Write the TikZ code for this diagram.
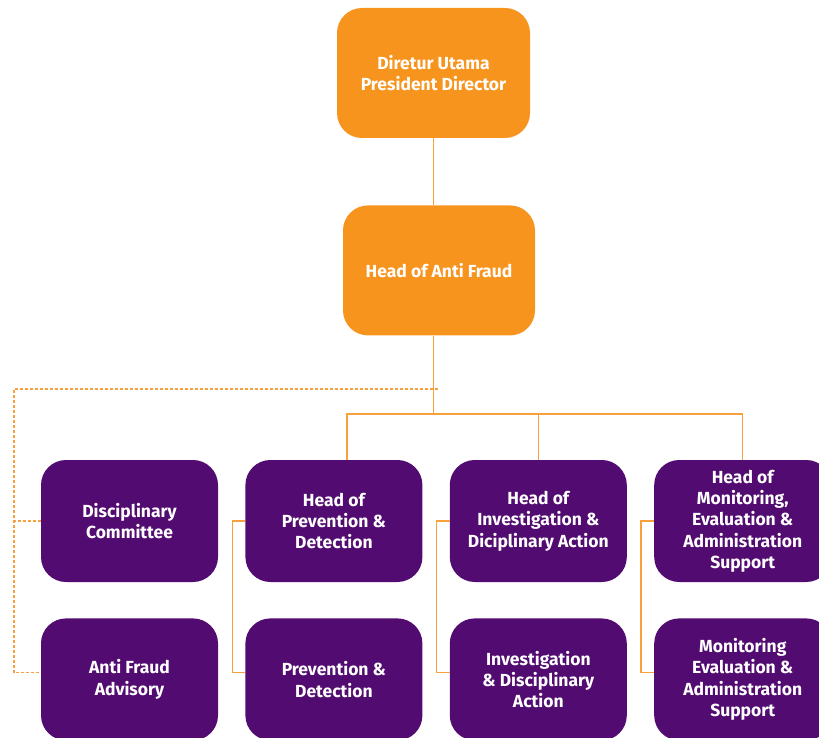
\documentclass[tikz,border=0pt]{standalone}
\usepackage{fontspec}
\setmainfont{Fira Sans}
\usetikzlibrary{positioning}
\definecolor{orgbox}{RGB}{247,148,30}
\definecolor{orgline}{RGB}{247,160,60}
\definecolor{purbox}{RGB}{82,11,112}

\begin{document}
\begin{tikzpicture}[
  x=1pt, y=1pt,
  unit/.style={rounded corners=25pt, text=white, align=center, font=\fontsize{17.5}{21.3}\selectfont\bfseries, inner sep=2pt},
  lead/.style={unit, fill=orgbox, minimum width=193pt, minimum height=130pt},
  dept/.style={unit, fill=purbox, minimum width=177pt, minimum height=122pt},
  link/.style={draw=orgline, line width=1.4pt},
  dashlink/.style={link, dash pattern=on 3pt off 2pt},
  node distance=36pt and 27pt
]
  \useasboundingbox (0,0) rectangle (819,-738);
  \clip (0,0) rectangle (819,-738);

  % top of the chart
  \node[lead] (dir) at (433.5,-73) {Diretur Utama\\President Director};
  \node[lead, below=67pt of dir, xshift=5.5pt, minimum width=192pt] (haf) {Head of Anti Fraud};

  % heads
  \node[dept] (dc) at (129.5,-521) {Disciplinary\\Committee};
  \node[dept, right=of dc] (hpd) {Head of\\Prevention \&\\Detection};
  \node[dept, right=of hpd] (hid) {Head of\\Investigation \&\\Diciplinary Action};
  \node[dept, right=of hid] (hme) {Head of\\Monitoring,\\Evaluation \&\\Administration\\Support};

  % units
  \node[dept, below=of dc] (afa) {Anti Fraud\\Advisory};
  \node[dept, below=of hpd] (pde) {Prevention \&\\Detection};
  \node[dept, below=of hid] (ida) {Investigation\\\& Disciplinary\\Action};
  \node[dept, below=of hme] (mea) {Monitoring\\Evaluation \&\\Administration\\Support};

  \coordinate (bus) at (433.5,-414);
  \coordinate (dsh) at (438,-389);

  \draw[link] (dir.south) -- (dir.south |- haf.north);
  \draw[link] (dir.south |- haf.south) -- (bus);
  \draw[link] ([xshift=13pt]hpd.north) |- (bus) -| (hme.north);
  \draw[link] (hid.north) -- (hid.north |- bus);

  \draw[link] (hpd.west) -- ++(-13,0) |- ([yshift=7pt]pde.west);
  \draw[link] (hid.west) -- ++(-13,0) |- ([yshift=7pt]ida.west);
  \draw[link] (hme.west) -- ++(-13,0) |- ([yshift=7pt]mea.west);

  \draw[dashlink] (dsh) -| ([xshift=-27pt,yshift=7pt]afa.west) -- ([yshift=7pt]afa.west);
  \draw[dashlink] (dc.west) -- ++(-27,0);
\end{tikzpicture}
\end{document}
